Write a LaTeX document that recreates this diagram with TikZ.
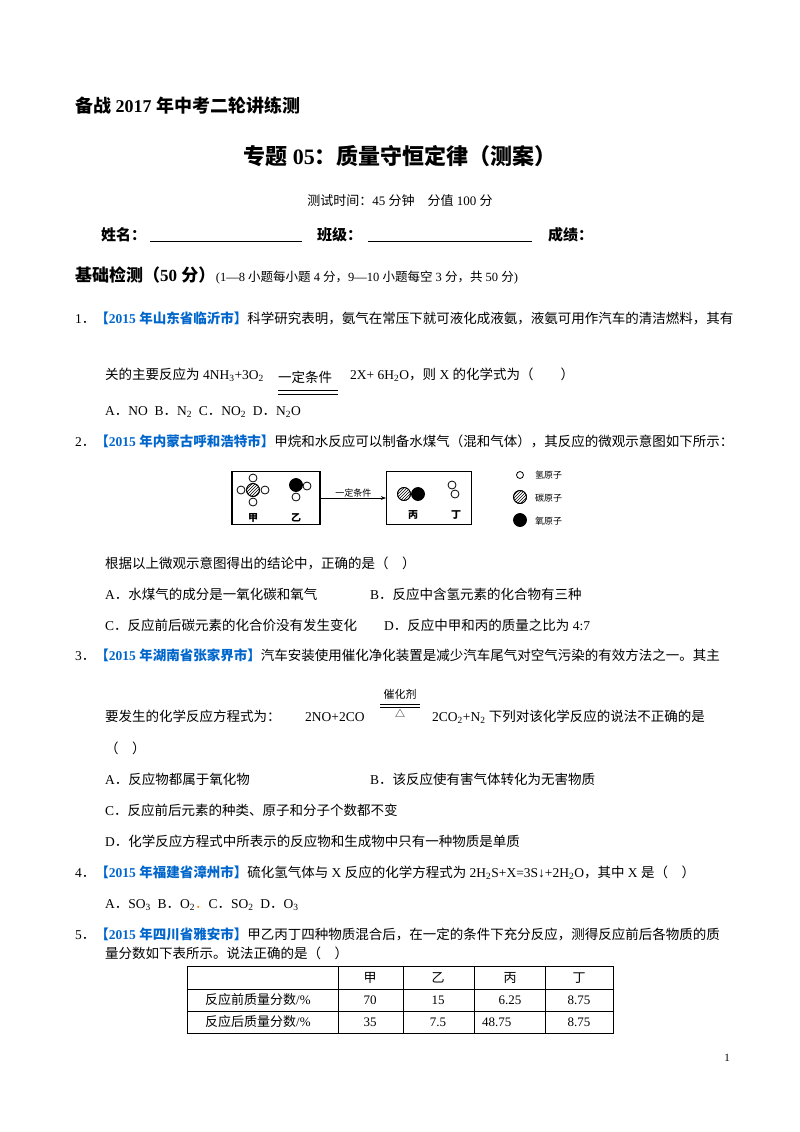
\documentclass[tikz,border=0pt]{standalone}
\usepackage{fontspec}
\setmainfont{Liberation Serif}
\newfontfamily\cjk{Noto Sans CJK SC}
\usetikzlibrary{patterns,arrows.meta}
% switch to the CJK font for Chinese characters
\XeTeXinterchartokenstate=1
\newXeTeXintercharclass\cjkclass
\count255="4E00
\loop\XeTeXcharclass\count255=\cjkclass\advance\count255 by 1 \ifnum\count255<"A000 \repeat
\count255="3000
\loop\XeTeXcharclass\count255=\cjkclass\advance\count255 by 1 \ifnum\count255<"3040 \repeat
\count255="FF00
\loop\XeTeXcharclass\count255=\cjkclass\advance\count255 by 1 \ifnum\count255<"FFF0 \repeat
\XeTeXcharclass"25B3=\cjkclass
\XeTeXinterchartoks 0 \cjkclass={\cjk}
\XeTeXinterchartoks 4095 \cjkclass={\cjk}
\XeTeXinterchartoks \cjkclass 0={\rmfamily}
\XeTeXinterchartoks \cjkclass 4095={\rmfamily}
\definecolor{srcblue}{RGB}{0,102,204}
\newcommand{\src}[1]{\textcolor{srcblue}{\bfseries #1}}
\newcommand{\sbs}[1]{\textsubscript{#1}}
\tikzset{
  txt/.style={anchor=base west,inner sep=0pt,font=\fontsize{13.5}{16}\selectfont},
  hatom/.style={circle,draw,thick,fill=white,minimum size=8pt,inner sep=0pt},
  catom/.style={circle,draw,thick,pattern=north east lines,minimum size=13pt,inner sep=0pt},
  oatom/.style={circle,draw,thick,fill=black,minimum size=13pt,inner sep=0pt},
  lbl/.style={inner sep=0pt,font=\fontsize{10}{12}\selectfont\bfseries},
  cell/.style={inner sep=0pt,font=\fontsize{13}{15}\selectfont}
}
\begin{document}
\begin{tikzpicture}[x=1pt,y=-1pt]
\useasboundingbox (0,0) rectangle (800,1132);
\node[txt,font=\fontsize{18}{20}\selectfont\bfseries] (head) at (75,112) {备战 2017 年中考二轮讲练测};
\node[inner sep=0pt,anchor=base,font=\fontsize{22}{24}\selectfont\bfseries] (title) at (400,164) {专题 05：质量守恒定律（测案）};
\node[inner sep=0pt,anchor=base,font=\fontsize{13}{15}\selectfont] (time) at (400,205) {测试时间：45 分钟\quad 分值 100 分};
\node[txt,font=\fontsize{15}{17}\selectfont\bfseries] (name) at (101,240) {姓名：};
\node[txt,font=\fontsize{15}{17}\selectfont\bfseries] (cls) at (317,240) {班级：};
\node[txt,font=\fontsize{15}{17}\selectfont\bfseries] (score) at (548,240) {成绩：};
\draw (150,241) -- (302,241);
\draw (368,241) -- (532,241);
\node[txt,font=\fontsize{17}{19}\selectfont\bfseries] (basic) at (75,281) {基础检测（50 分）};
\node[txt,font=\fontsize{12.5}{15}\selectfont] (pts) at (basic.base east) {(1—8 小题每小题 4 分，9—10 小题每空 3 分，共 50 分)};

% question 1
\node[txt] (q1) at (75,323) {1．\src{【2015 年山东省临沂市】}科学研究表明，氨气在常压下就可液化成液氨，液氨可用作汽车的清洁燃料，其有};
\node[txt] (q1b) at (105,379) {关的主要反应为 4NH\sbs{3}+3O\sbs{2}};
\node[txt] (cond1) at (278,382) {一定条件};
\draw[thick] (278,390) -- (338,390) (278,394) -- (338,394);
\node[txt] (q1c) at (350,379) {2X+ 6H\sbs{2}O，则 X 的化学式为（\qquad ）};
\node[txt] (q1o) at (105,415) {A．NO\ \ B．N\sbs{2}\ \ C．NO\sbs{2}\ \ D．N\sbs{2}O};

% question 2
\node[txt] (q2) at (75,446) {2．\src{【2015 年内蒙古呼和浩特市】}甲烷和水反应可以制备水煤气（混和气体），其反应的微观示意图如下所示：};
\node[draw,line width=1.3pt,minimum width=88pt,minimum height=53pt,inner sep=0pt] (box1) at (276,498) {};
\node[draw,line width=1.3pt,minimum width=85pt,minimum height=53pt,inner sep=0pt] (box2) at (429,498) {};
\draw[-{Stealth[length=5pt]}] (box1.east) -- (box2.west) node[midway,above=1pt,lbl,font=\fontsize{9}{11}\selectfont] (cond2) {一定条件};
% 甲
\node[hatom] (h1) at (241,490) {};
\node[hatom] (h2) at (265,490) {};
\node[hatom] (h3) at (253,478) {};
\node[hatom] (h4) at (253,502) {};
\node[catom,fill=white] (c1) at (253,490) {};
\node[catom] at (253,490) {};
% 乙
\node[hatom] (h5) at (307,486) {};
\node[hatom] (h6) at (296,497) {};
\node[oatom] (o1) at (296,485) {};
\node[lbl] (jia) at (253,518) {甲};
\node[lbl] (yi) at (296,518) {乙};
% 丙, 丁
\node[catom,fill=white] (c2) at (404,494) {};
\node[catom] at (404,494) {};
\node[oatom] (o2) at (418,494) {};
\node[hatom] (h7) at (452,485) {};
\node[hatom] (h8) at (455,494) {};
\node[lbl] (bing) at (413,515) {丙};
\node[lbl] (ding) at (456,515) {丁};
% legend
\node[hatom,minimum size=7pt] (lh) at (520,475) {};
\node[catom,fill=white] (lc0) at (520,497) {};
\node[catom] (lc) at (520,497) {};
\node[oatom] (lo) at (520,520) {};
\node[anchor=west,inner sep=0pt,font=\fontsize{9}{11}\selectfont] at (535,475) {氢原子};
\node[anchor=west,inner sep=0pt,font=\fontsize{9}{11}\selectfont] at (535,498) {碳原子};
\node[anchor=west,inner sep=0pt,font=\fontsize{9}{11}\selectfont] at (535,521) {氧原子};
\node[txt] (q2b) at (105,568) {根据以上微观示意图得出的结论中，正确的是（\quad ）};
\node[txt] (q2A) at (105,599) {A．水煤气的成分是一氧化碳和氧气};
\node[txt] (q2B) at (370,599) {B．反应中含氢元素的化合物有三种};
\node[txt] (q2C) at (105,630) {C．反应前后碳元素的化合价没有发生变化};
\node[txt] (q2D) at (384,630) {D．反应中甲和丙的质量之比为 4:7};

% question 3
\node[txt] (q3) at (75,660) {3．\src{【2015 年湖南省张家界市】}汽车安装使用催化净化装置是减少汽车尾气对空气污染的有效方法之一。其主};
\node[txt] (q3b) at (105,721) {要发生的化学反应方程式为：};
\node[txt] (q3e) at (305,721) {2NO+2CO};
\node[inner sep=0pt,anchor=base,font=\fontsize{11}{13}\selectfont] (cat) at (400,698) {催化剂};
\draw (380,704) -- (420,704) (380,707) -- (420,707);
\node[inner sep=0pt,anchor=base,font=\fontsize{10}{12}\selectfont] (heat) at (400,717) {△};
\node[txt] (q3f) at (432,721) {2CO\sbs{2}+N\sbs{2} 下列对该化学反应的说法不正确的是};
\node[txt] (q3p) at (105,753) {（\quad ）};
\node[txt] (q3A) at (105,784) {A．反应物都属于氧化物};
\node[txt] (q3B) at (370,784) {B．该反应使有害气体转化为无害物质};
\node[txt] (q3C) at (105,815) {C．反应前后元素的种类、原子和分子个数都不变};
\node[txt] (q3D) at (105,846) {D．化学反应方程式中所表示的反应物和生成物中只有一种物质是单质};

% question 4
\node[txt] (q4) at (75,877) {4．\src{【2015 年福建省漳州市】}硫化氢气体与 X 反应的化学方程式为 2H\sbs{2}S+X=3S↓+2H\sbs{2}O，其中 X 是（\quad ）};
\node[txt] (q4o) at (105,908) {A．SO\sbs{3}\ \ B．O\sbs{2}\textcolor{orange}{．}C．SO\sbs{2}\ \ D．O\sbs{3}};

% question 5
\node[txt] (q5) at (75,939) {5．\src{【2015 年四川省雅安市】}甲乙丙丁四种物质混合后，在一定的条件下充分反应，测得反应前后各物质的质};
\node[txt] (q5b) at (105,958) {量分数如下表所示。说法正确的是（\quad ）};
\draw (187,966) rectangle (613,1033);
\draw (187,989) -- (613,989) (187,1011) -- (613,1011);
\foreach \cx in {338,403,474,545} \draw (\cx,966) -- (\cx,1033);
\node[cell] (tjia) at (370,978) {甲};
\node[cell] (tyi) at (438,978) {乙};
\node[cell] (tbing) at (510,978) {丙};
\node[cell] (tding) at (579,978) {丁};
\node[cell,anchor=west] (r1) at (205,1000) {反应前质量分数/\%};
\node[cell,anchor=west] (r2) at (205,1022) {反应后质量分数/\%};
\node[cell] at (370,1000) {70};
\node[cell] at (438,1000) {15};
\node[cell] at (510,1000) {6.25};
\node[cell] at (579,1000) {8.75};
\node[cell] at (370,1022) {35};
\node[cell] at (438,1022) {7.5};
\node[cell,anchor=west] at (482,1022) {48.75};
\node[cell] at (579,1022) {8.75};
\node[inner sep=0pt,font=\fontsize{11}{13}\selectfont] (page) at (727,1058) {1};
\end{tikzpicture}
\end{document}
